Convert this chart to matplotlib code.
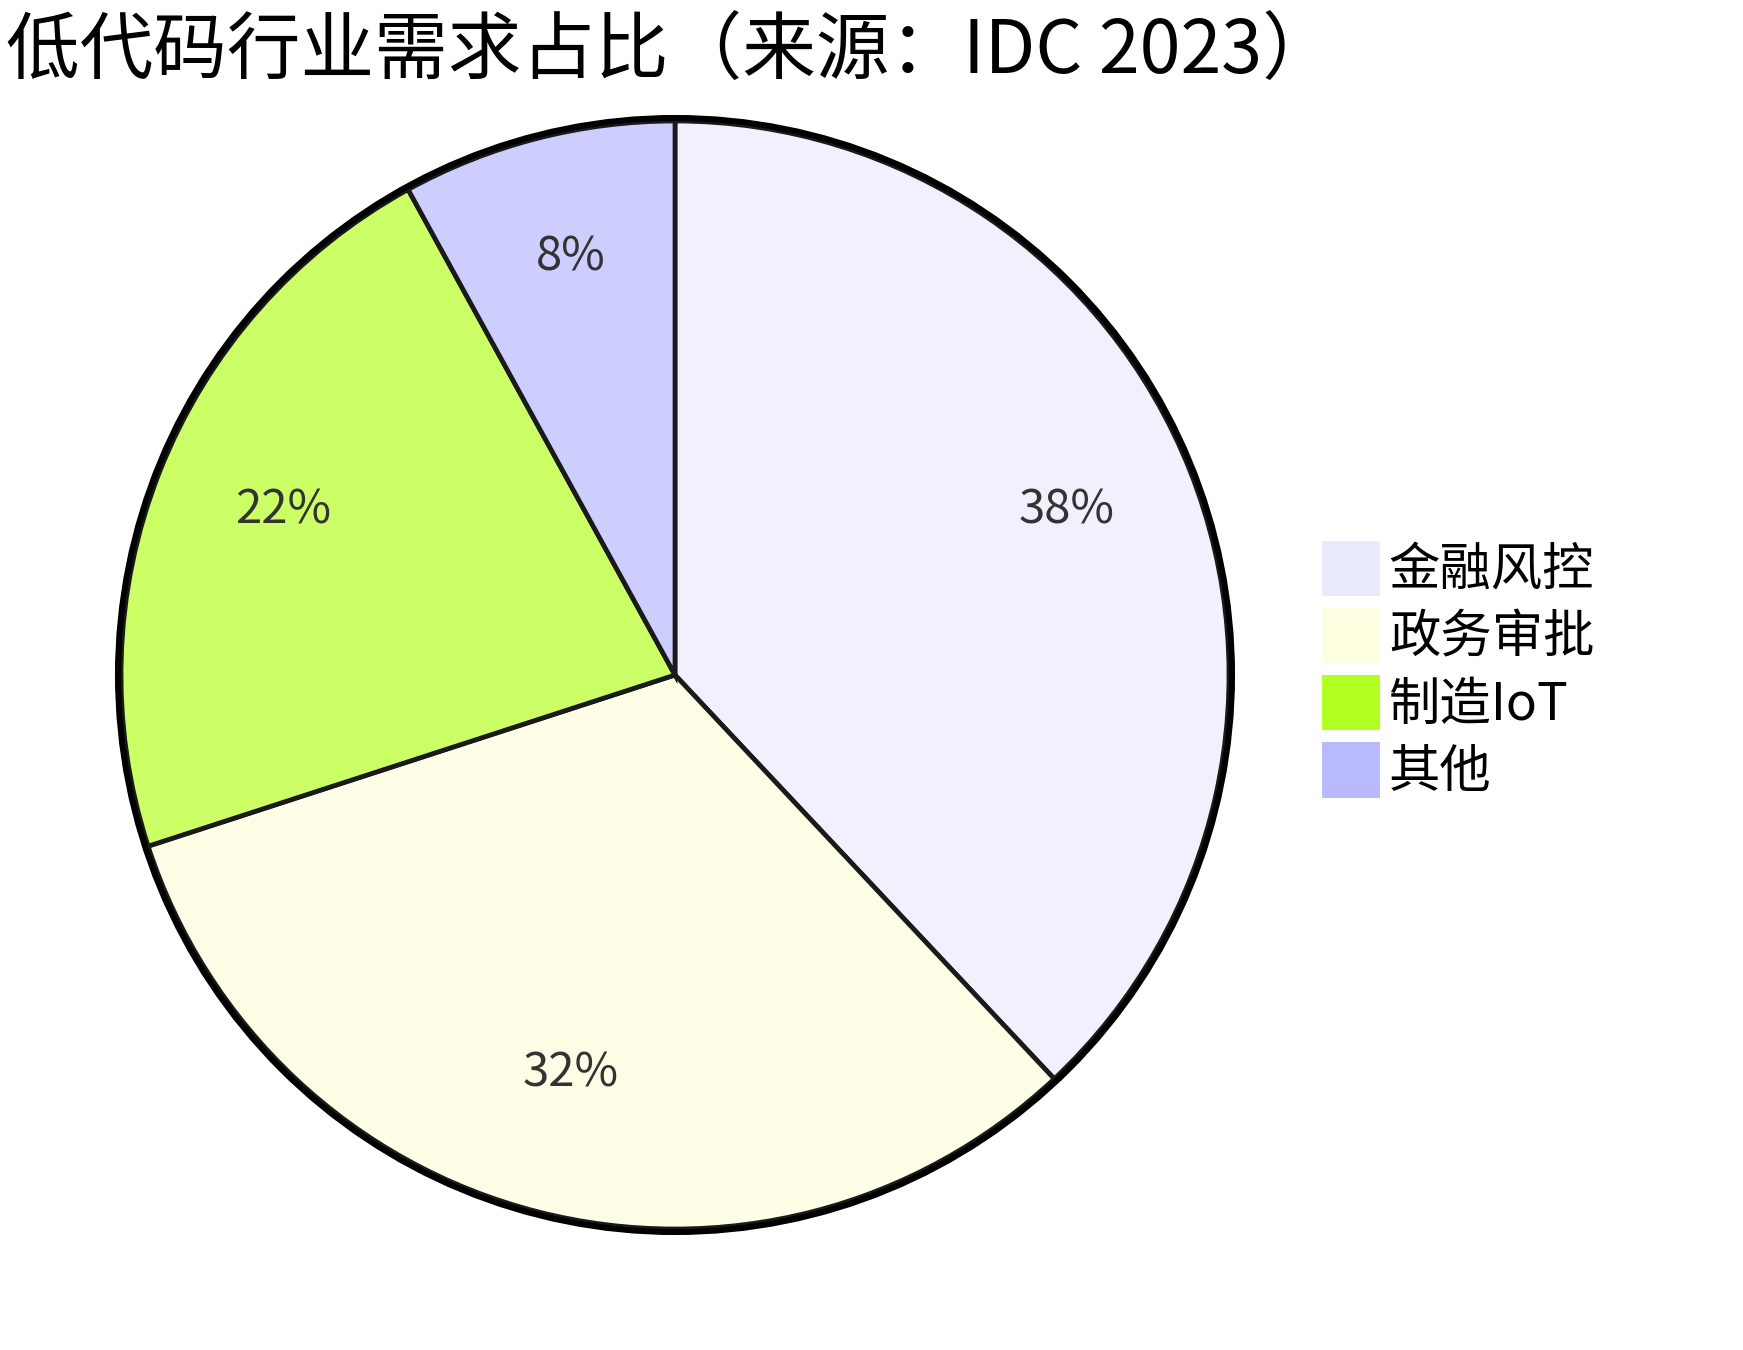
import matplotlib
matplotlib.use("Agg")
import matplotlib.pyplot as plt
from matplotlib.patches import Patch, Circle
from matplotlib.transforms import ScaledTranslation

plt.rcParams['font.family'] = ['Noto Sans CJK SC', 'DejaVu Sans']

title = "低代码行业需求占比（来源：IDC 2023）"
categories = ["金融风控", "政务审批", "制造IoT", "其他"]
values = [38, 32, 22, 8]
slice_colors = ["#F1F1FE", "#FEFEE6", "#CCFF66", "#CDCDFE"]
legend_colors = ["#EAEAFE", "#FEFEE1", "#B2FF22", "#B9B9FE"]

W, H = 1743, 1350
fig = plt.figure(figsize=(W / 100, H / 100), dpi=100)
fig.patch.set_facecolor("white")

cx, cy, r = 675, 675, 554
ax = fig.add_axes([(cx - r) / W, (H - cy - r) / H, 2 * r / W, 2 * r / H])
wedges, texts, autotexts = ax.pie(
    values, colors=slice_colors, startangle=90, counterclock=False,
    autopct="%d%%", pctdistance=0.76, radius=1,
    wedgeprops=dict(edgecolor="#1a1a1a", linewidth=3.4, clip_on=False),
    textprops=dict(fontsize=34, color="#333333"))
for t in autotexts:
    t.set_transform(ax.transData + ScaledTranslation(0, 0.10, fig.dpi_scale_trans))
ax.add_patch(Circle((0, 0), 1.0055, fill=False, edgecolor="black", linewidth=4.3,
                    zorder=5, clip_on=False))
ax.set_xlim(-1, 1)
ax.set_ylim(-1, 1)
ax.set_aspect("equal")
ax.axis("off")

fig.text(6 / W, 1 - 14 / H, title, fontsize=53, color="black", ha="left", va="top")

handles = [Patch(facecolor=c, edgecolor="none") for c in legend_colors]
fig.legend(handles, categories, loc="center left",
           bbox_to_anchor=(1322 / W, 1 - 670 / H), frameon=False,
           fontsize=37, handlelength=1.12, handleheight=1.28,
           handletextpad=0.18, labelspacing=0.2, borderpad=0, borderaxespad=0)

fig.savefig("out.png", dpi=100, facecolor="white")
